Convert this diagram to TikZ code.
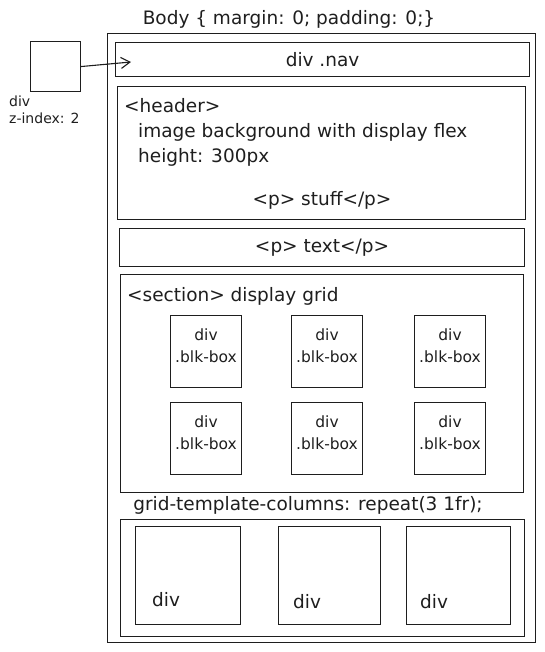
\documentclass[tikz,border=0pt]{standalone}
\usepackage{fontspec}
\setmainfont{DejaVu Sans}
\usetikzlibrary{arrows.meta,positioning}
\definecolor{ink}{HTML}{1E1E1E}

\begin{document}
\begin{tikzpicture}[x=1pt, y=-1pt,
    every node/.style={font=\fontsize{18.5}{22}\selectfont, text=ink},
    box/.style={draw=ink, line width=1.1pt, rectangle, inner sep=0pt, anchor=north west},
    small/.style={font=\fontsize{14}{16}\selectfont, anchor=west, inner sep=0pt},
    lbl/.style={anchor=west, inner sep=0pt}]
    \useasboundingbox (0,0) rectangle (544,652);

    \node[inner sep=0pt] (title) at (289,19) {Body \{ margin: 0; padding: 0;\}};
    \node[box, minimum width=428, minimum height=609] (body) at (107,33) {};

    \node[box, minimum width=50, minimum height=50] (zbox) at (30,41) {};
    \node[small] (zdiv) at (9,101) {div};
    \node[small] (zidx) at (9,118) {z-index: 2};

    \node[box, minimum width=414, minimum height=34] (nav) at (115,42) {div .nav};
    \coordinate (navin) at (131,62);
    \draw[ink, line width=1.1pt, -{Straight Barb[length=9pt, width=11pt]}] (zbox.east) -- (navin);

    % header
    \node[box, minimum width=408, minimum height=133] (header) at (117,86) {};
    \node[lbl] (htag) at (124,106) {<header>};
    \node[lbl] (hbg) at (138,132) {image background with display flex};
    \node[lbl] (hheight) at (138,157) {height: 300px};
    \node[inner sep=0pt] (hstuff) at (322,200) {<p> stuff</p>};

    \node[box, minimum width=405, minimum height=38] (ptext) at (119,228) {<p> text</p>};

    % section grid
    \node[box, minimum width=403, minimum height=218] (section) at (120,274) {};
    \node[lbl] (stag) at (127,296) {<section> display grid};
    \foreach \y/\r in {315/1, 402/2}
        \foreach \x/\c in {170/a, 291/b, 414/c} {
            \node[box, minimum width=71, minimum height=72] (blk\r\c) at (\x,\y) {};
            \node[align=center, inner sep=0pt, font=\fontsize{15.5}{22}\selectfont]
                (blktxt\r\c) at ([yshift=6pt]blk\r\c.center) {div\\.blk-box};
        }

    \node[inner sep=0pt] (gtc) at (308,505) {grid-template-columns: repeat(3 1fr);};

    % bottom columns
    \node[box, minimum width=404, minimum height=117] (cols) at (120,519) {};
    \node[box, minimum width=105, minimum height=98] (col1) at (135,526) {};
    \node[box, minimum width=102, minimum height=98] (col2) at (278,526) {};
    \node[box, minimum width=104, minimum height=98] (col3) at (406,526) {};
    \node[lbl] (cdiv1) at (152,600) {div};
    \node[lbl] (cdiv2) at (293,602) {div};
    \node[lbl] (cdiv3) at (420,602) {div};
\end{tikzpicture}
\end{document}
